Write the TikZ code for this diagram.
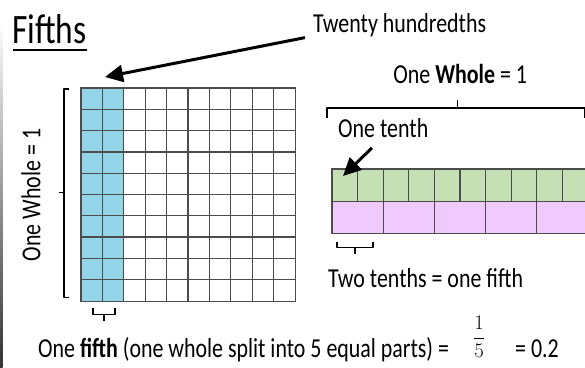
\documentclass[tikz,border=0pt]{standalone}
\usepackage{fontspec}
\setmainfont{Carlito}[FakeStretch=0.8]
\usetikzlibrary{arrows.meta,positioning,calc}
\definecolor{hundredblue}{RGB}{147,212,232}
\definecolor{tenthgreen}{RGB}{197,224,180}
\definecolor{fifthpink}{RGB}{240,202,252}
\begin{document}
\begin{tikzpicture}[x=1bp, y=-1bp,
    every node/.style={font=\fontsize{27.5}{32}\selectfont, inner sep=0pt},
    cellline/.style={draw=black!70, line width=1.3bp},
    arr/.style={-{Triangle[length=18bp,width=17bp]}, line width=3bp},
    brace/.style={line width=1.2bp, line join=round},
]
\useasboundingbox (0,0) rectangle (585,367);
\clip (0,0) rectangle (585,367);
\fill[white] (0,0) rectangle (585,367);
\shade[top color=white, bottom color=black!80] (0,20) rectangle (2.5,367);
% title
\node[anchor=base west, font=\fontsize{42}{48}\selectfont] (title) at (12,43) {Fifths};
\draw[line width=2.5bp] ($(title.base west)+(1,7)$) -- ($(title.base east)+(0,7)$);
% hundred square
\node[minimum width=214bp, minimum height=213bp, anchor=north west] (hundred) at (81,88) {};
\fill[hundredblue] (hundred.north west) rectangle ($(hundred.south west)+(42.8,0)$);
\foreach \i in {1,...,9} {
  \draw[cellline] ($(hundred.north west)+(\i*21.4,0)$) -- ($(hundred.south west)+(\i*21.4,0)$);
  \draw[cellline] ($(hundred.north west)+(0,\i*21.3)$) -- ($(hundred.north east)+(0,\i*21.3)$);
}
\draw[cellline] (hundred.north west) rectangle (hundred.south east);
\draw[brace] ($(hundred.north west)+(-12,1)$) -- ($(hundred.north west)+(-17,1)$)
  -- ($(hundred.south west)+(-17,-4)$) -- ($(hundred.south west)+(-12,-4)$);
\draw[brace] ($(hundred.west)+(-17,-2)$) -- ($(hundred.west)+(-22,-2)$);
\node[rotate=90] (whole left) at (31,195) {One Whole = 1};
\draw[brace] ($(hundred.south west)+(12,7)$) -- ++(0,6) -- ++(22,0) -- ++(0,-6);
\draw[brace] ($(hundred.south west)+(23,13)$) -- ++(0,7);
\node[anchor=base west] (twenty) at (313,32) {Twenty hundredths};
\draw[arr] ($(twenty.south west)+(-8,1)$) -- ($(hundred.north west)+(24,-11)$);
% tenths and fifths strips
\node[minimum width=256bp, minimum height=32bp, anchor=north west, fill=tenthgreen] (tenths) at (332,169) {};
\node[minimum width=256bp, minimum height=32bp, fill=fifthpink, below=0pt of tenths] (fifths) {};
\foreach \i in {1,...,9}
  \draw[cellline] ($(tenths.north west)+(\i*25.6,0)$) -- ($(tenths.south west)+(\i*25.6,0)$);
\foreach \i in {1,...,4}
  \draw[cellline] ($(fifths.north west)+(\i*51.2,0)$) -- ($(fifths.south west)+(\i*51.2,0)$);
\draw[cellline] (tenths.north west) rectangle (tenths.south east);
\draw[cellline] (fifths.north west) rectangle (fifths.south east);
\draw[brace] ($(tenths.north west)+(-5,-51)$) -- ++(0,-10) -- ++(258,0) -- ++(0,10);
\draw[brace] ($(tenths.north)+(-3,-61)$) -- ++(0,-8);
\node (whole top) at ($(tenths.north)+(0,-95)$) {One \textbf{Whole} = 1};
\node[anchor=west] (tenth) at (338,128) {One tenth};
\draw[arr] ($(tenth.south west)+(34,10)$) -- ($(tenths.north west)+(11,7)$);
\draw[brace] ($(fifths.south west)+(5,8)$) -- ++(0,6) -- ++(36,0) -- ++(0,-6);
\draw[brace] ($(fifths.south west)+(23,14)$) -- ++(0,6);
\node[anchor=west] (twotenths) at (328,278) {Two tenths = one fifth};
% bottom line
\node[anchor=base west] (onefifth) at (38,357) {One \textbf{fifth} (one whole split into 5 equal parts) =};
\node[font=\fontsize{22}{26}\selectfont] (frac) at (479,337) {$\displaystyle\frac{1}{5}$};
\node[anchor=base west] (decimal) at (515,357) {= 0.2};
\end{tikzpicture}
\end{document}
